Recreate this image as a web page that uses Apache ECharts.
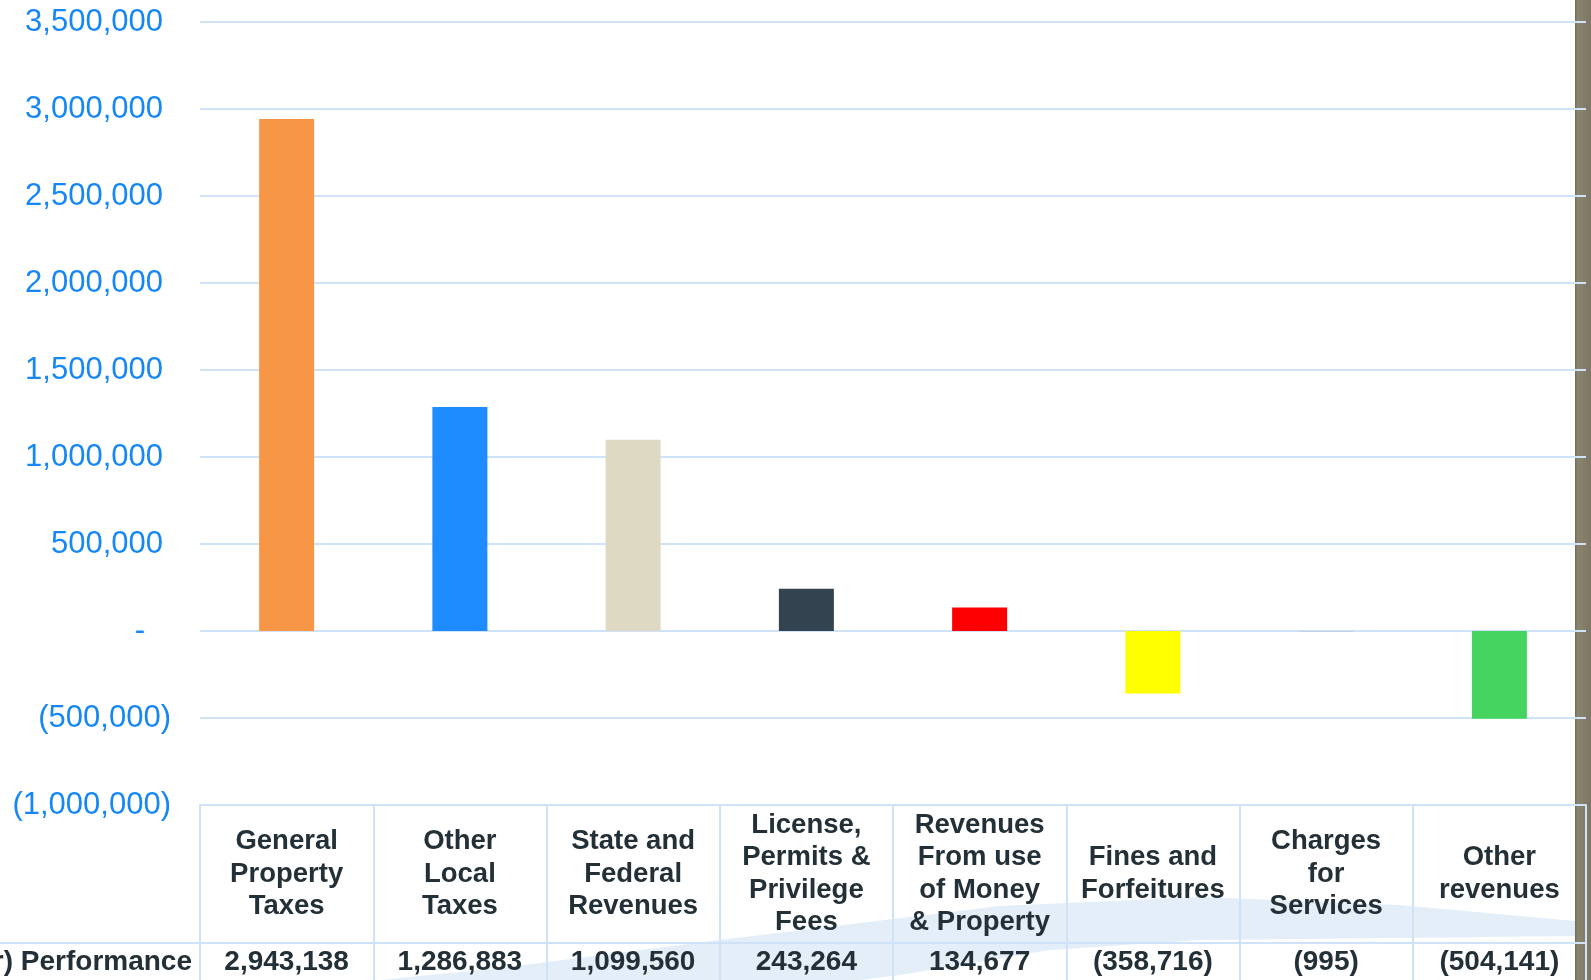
<!DOCTYPE html>
<html>
<head>
<meta charset="utf-8">
<script src="https://cdn.jsdelivr.net/npm/echarts@6/dist/echarts.min.js"></script>
<style>
html,body{margin:0;padding:0;background:#ffffff;}
#chart{width:1591px;height:980px;}
</style>
</head>
<body>
<div id="chart"></div>
<script>
// ---- data ----
var categories = [
  'General\nProperty\nTaxes',
  'Other\nLocal\nTaxes',
  'State and\nFederal\nRevenues',
  'License,\nPermits &\nPrivilege\nFees',
  'Revenues\nFrom use\nof Money\n& Property',
  'Fines and\nForfeitures',
  'Charges\nfor\nServices',
  'Other\nrevenues'
];
var performance = [2943138, 1286883, 1099560, 243264, 134677, -358716, -995, -504141];
var rowHeader = 'Over (Under) Performance';
var yMin = -1000000, yMax = 3500000, yStep = 500000;

// ---- styles ----
var barColors = ['#F79646', '#1E8CFF', '#DDD9C3', '#334350', '#FF0000', '#FFFF00', '#A5A5A5', '#46D460'];
var gridColor = '#cfe3f8';
var labelBlue = '#1687f5';
var tableText = '#243038';

function fmt(v) {
  var s = Math.abs(v).toString().replace(/\B(?=(\d{3})+(?!\d))/g, ',');
  return v < 0 ? '(' + s + ')' : s;
}

var chart = echarts.init(document.getElementById('chart'), null, {renderer: 'canvas'});
var labelFont = {fontFamily: 'Liberation Sans, Arial, sans-serif', fontSize: 31, color: labelBlue};

var option = {
  backgroundColor: '#ffffff',
  animation: false,
  graphic: [
    {
      type: 'polygon', z: -100, silent: true,
      shape: {points: [[330,985],[500,968],[720,940],[1000,906],[1200,897],[1400,905],[1575,921],
                       [1575,936],[1400,938],[1200,940],[1050,950],[900,975],[820,985]]},
      style: {fill: 'rgba(180,208,235,0.36)'}
    },
    {
      type: 'rect', z: -90, silent: true,
      shape: {x: 1575, y: 0, width: 16, height: 980},
      style: {fill: new echarts.graphic.LinearGradient(0, 0, 1, 0, [
        {offset: 0, color: '#6f6958'}, {offset: 0.15, color: '#8a836e'}, {offset: 1, color: '#7d7663'}
      ])}
    },
    {
      type: 'line', silent: true,
      shape: {x1: 0, y1: 943, x2: 200, y2: 943},
      style: {stroke: gridColor, lineWidth: 2}
    },
    {
      type: 'text', silent: true,
      x: 192, y: 962,
      style: {
        text: rowHeader, fill: tableText,
        font: 'bold 28px "Liberation Sans", Arial, sans-serif',
        textAlign: 'right', textVerticalAlign: 'middle'
      }
    }
  ],
  grid: {left: 200, right: 5, top: 22, bottom: 175, containLabel: false},
  xAxis: [
    {
      type: 'category', data: categories, position: 'bottom',
      boundaryGap: true,
      axisLine: {show: true, onZero: false, lineStyle: {color: gridColor, width: 2}},
      axisTick: {show: true, interval: 0, length: 175, lineStyle: {color: gridColor, width: 2}},
      axisLabel: {
        interval: 0, margin: 69, verticalAlign: 'middle',
        fontFamily: 'Liberation Sans, Arial, sans-serif', fontWeight: 'bold',
        fontSize: 27.5, lineHeight: 32.5, color: tableText, align: 'center'
      },
      splitLine: {show: false}
    },
    {
      type: 'category', data: performance.map(fmt), position: 'bottom', offset: 138,
      boundaryGap: true,
      axisLine: {show: true, onZero: false, lineStyle: {color: gridColor, width: 2}},
      axisTick: {show: false},
      axisLabel: {
        interval: 0, margin: 19, verticalAlign: 'middle',
        fontFamily: 'Liberation Sans, Arial, sans-serif', fontWeight: 'bold',
        fontSize: 28, color: tableText
      },
      splitLine: {show: false}
    }
  ],
  yAxis: {
    type: 'value', min: yMin, max: yMax, interval: yStep,
    axisLine: {show: false}, axisTick: {show: false},
    splitLine: {show: true, lineStyle: {color: gridColor, width: 2}},
    axisLabel: {
      margin: 29,
      fontFamily: 'Liberation Sans, Arial, sans-serif', fontSize: 31, color: labelBlue,
      formatter: function (v) {
        if (v === 0) return '{z|-}';
        if (v > 0) return '{p|' + fmt(v) + '}';
        return '{n|' + fmt(v) + '}';
      },
      rich: {
        z: Object.assign({padding: [0, 26, 0, 0]}, labelFont),
        p: Object.assign({padding: [0, 8, 0, 0]}, labelFont),
        n: Object.assign({padding: [0, 0, 0, 0]}, labelFont)
      }
    }
  },
  series: [{
    type: 'bar', xAxisIndex: 0,
    barWidth: 55,
    data: performance.map(function (v, i) {
      return {value: v, itemStyle: {color: barColors[i]}};
    })
  }]
};
chart.setOption(option);
</script>
</body>
</html>
